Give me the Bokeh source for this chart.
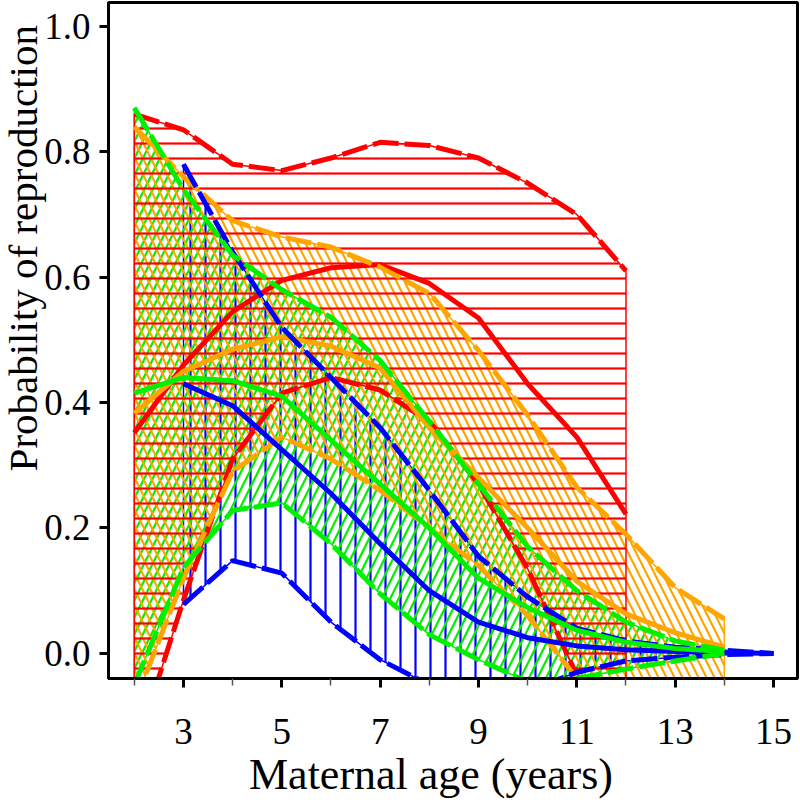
from bokeh.plotting import figure
from bokeh.models import Range1d, FixedTicker, NumeralTickFormatter
from bokeh.embed import file_html
from bokeh.resources import INLINE

# ---------------- data ----------------
ages_red = [2, 3, 4, 5, 6, 7, 8, 9, 10, 11, 12]
red_upper = [0.86, 0.835, 0.78, 0.77, 0.79, 0.815, 0.81, 0.79, 0.75, 0.70, 0.61]
red_mean = [0.352, 0.46, 0.545, 0.595, 0.615, 0.62, 0.59, 0.535, 0.43, 0.345, 0.222]
red_lower = [-0.16, 0.085, 0.31, 0.415, 0.44, 0.42, 0.37, 0.27, 0.135, -0.035, -0.2]

ages_orange = [2, 3, 4, 5, 6, 7, 8, 9, 10, 11, 12, 13, 14]
orange_upper = [0.84, 0.76, 0.69, 0.664, 0.648, 0.616, 0.574, 0.483, 0.38, 0.265, 0.19, 0.105, 0.055]
orange_mean = [0.383, 0.45, 0.485, 0.505, 0.49, 0.455, 0.36, 0.28, 0.2, 0.115, 0.063, 0.033, 0.01]
orange_lower = [-0.08, 0.12, 0.29, 0.345, 0.31, 0.26, 0.2, 0.14, 0.06, -0.04, -0.1, -0.1, -0.1]

ages_green = [2, 3, 4, 5, 6, 7, 8, 9, 10, 11, 12, 13, 14]
green_upper = [0.87, 0.74, 0.635, 0.58, 0.536, 0.467, 0.37, 0.27, 0.17, 0.1, 0.05, 0.02, 0.005]
green_mean = [0.415, 0.44, 0.435, 0.41, 0.34, 0.27, 0.2, 0.12, 0.073, 0.037, 0.018, 0.008, 0.003]
green_lower = [-0.05, 0.137, 0.228, 0.24, 0.175, 0.095, 0.03, -0.01, -0.045, -0.04, -0.025, -0.012, 0.0]

ages_blue = [3, 4, 5, 6, 7, 8, 9, 10, 11, 12, 13, 14, 15]
blue_upper = [0.78, 0.64, 0.52, 0.44, 0.36, 0.26, 0.155, 0.09, 0.04, 0.02, 0.01, 0.005, 0.0]
blue_mean = [0.43, 0.395, 0.325, 0.255, 0.175, 0.10, 0.05, 0.025, 0.012, 0.006, 0.003, 0.001, 0.0]
blue_lower = [0.078, 0.148, 0.128, 0.05, -0.01, -0.05, -0.07, -0.06, -0.03, -0.012, -0.006, -0.002, 0.0]

x_major = [3, 5, 7, 9, 11, 13, 15]
x_minor = [2, 4, 6, 8, 10, 12, 14]
y_ticks = [0.0, 0.2, 0.4, 0.6, 0.8, 1.0]

x_title = "Maternal age (years)"
y_title = "Probability of reproduction"

RED, ORANGE, GREEN, BLUE = "#FF0000", "#FFA500", "#00F000", "#0000FF"
FONT = "Liberation Serif"
NBSP = "\u00a0"

groups = {
    "red": (ages_red, red_upper, red_mean, red_lower, RED, "horizontal_line", 15),
    "orange": (ages_orange, orange_upper, orange_mean, orange_lower, ORANGE, "left_diagonal_line", 16),
    "green": (ages_green, green_upper, green_mean, green_lower, GREEN, "right_diagonal_line", 17),
    "blue": (ages_blue, blue_upper, blue_mean, blue_lower, BLUE, "vertical_line", 15),
}

p = figure(width=813, height=802, output_backend="svg", toolbar_location=None,
           x_range=Range1d(1.475, 15.488), y_range=Range1d(-0.04, 1.038),
           min_border_left=121, min_border_right=3, min_border_top=2, min_border_bottom=124)
p.margin = (0, 0, 0, -13)
p.xgrid.visible = False
p.ygrid.visible = False
p.outline_line_color = "black"
p.outline_line_width = 3
p.background_fill_color = "white"

# hatched bands
for name in ["blue", "green", "orange", "red"]:
    ages, up, mn, lo, col, pat, sc = groups[name]
    p.patch(x=list(ages) + list(ages[::-1]), y=list(up) + list(lo[::-1]),
            fill_color=None, line_color=col, line_width=1.5,
            hatch_pattern=pat, hatch_color=col, hatch_scale=sc, hatch_weight=2.2)

# lines
for name in ["red", "orange", "blue", "green"]:
    ages, up, mn, lo, col, pat, sc = groups[name]
    p.line(ages, up, line_color=col, line_width=5, line_dash="26 6")
    p.line(ages, lo, line_color=col, line_width=5, line_dash="26 6")
    p.line(ages, mn, line_color=col, line_width=5)

# axes
xa = p.xaxis[0]
xa.ticker = FixedTicker(ticks=x_major, minor_ticks=x_minor)
xa.axis_label = x_title + NBSP * 4
xa.axis_label_text_font = FONT
xa.axis_label_text_font_size = "44px"
xa.axis_label_text_font_style = "normal"
xa.axis_label_text_color = "black"
xa.axis_label_standoff = 3
xa.major_label_text_font = FONT
xa.major_label_text_font_size = "37px"
xa.major_label_text_color = "black"
xa.major_label_standoff = 31
xa.axis_line_width = 3
xa.major_tick_line_width = 3
xa.major_tick_in = 0
xa.major_tick_out = 9
xa.minor_tick_line_width = 1.5
xa.minor_tick_line_color = "#555555"
xa.minor_tick_in = 0
xa.minor_tick_out = 7

ya = p.yaxis[0]
ya.ticker = FixedTicker(ticks=y_ticks)
ya.formatter = NumeralTickFormatter(format="0.0")
ya.axis_label = NBSP * 18 + y_title
ya.axis_label_text_font = FONT
ya.axis_label_text_font_size = "41px"
ya.axis_label_text_font_style = "normal"
ya.axis_label_text_color = "black"
ya.axis_label_standoff = -5
ya.major_label_text_font = FONT
ya.major_label_text_font_size = "37px"
ya.major_label_text_color = "black"
ya.major_label_standoff = 9
ya.axis_line_width = 3
ya.major_tick_line_width = 3
ya.major_tick_in = 0
ya.major_tick_out = 9
ya.minor_tick_line_color = None

open("out.html", "w").write(file_html(p, INLINE))
